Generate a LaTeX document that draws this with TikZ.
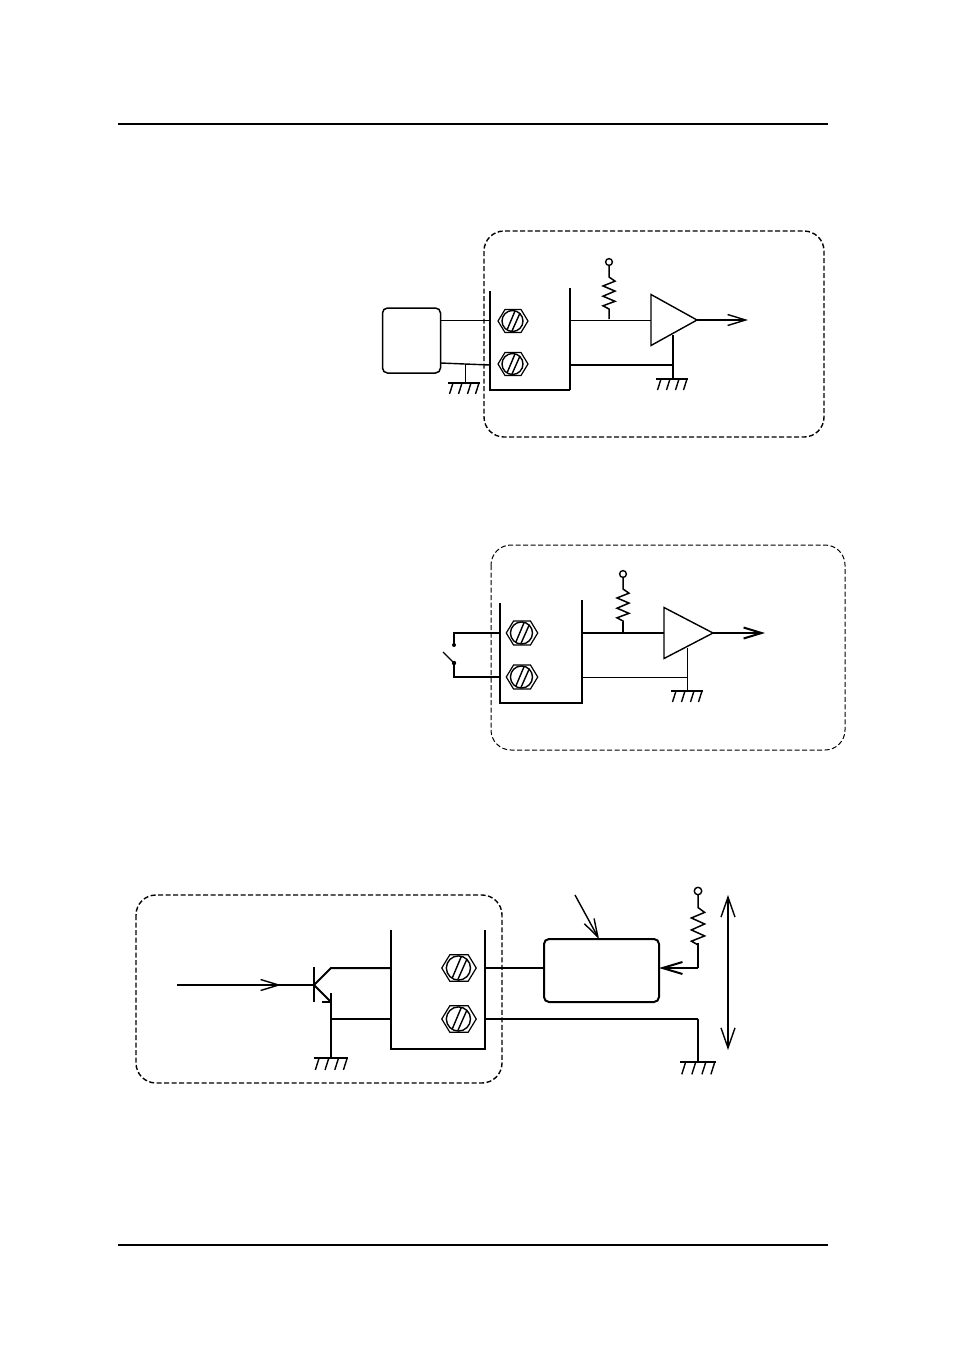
\documentclass[tikz,border=0pt]{standalone}
\usetikzlibrary{arrows.meta,shapes.geometric}
\tikzset{
  thinw/.style={line width=1pt},
  midw/.style={line width=1.4pt},
  thickw/.style={line width=2pt},
  frame/.style={midw, dash pattern=on 5pt off 2.5pt, rounded corners=20pt},
  amp/.style={draw, midw, isosceles triangle, isosceles triangle stretches, inner sep=0pt, outer sep=0pt, anchor=apex},
  modbox/.style={draw, midw, rounded corners=5pt, inner sep=0pt, outer sep=0pt},
  barb/.style={-{Straight Barb[length=18pt,width=11pt]}},
  screw/.pic={
    \draw[line width=1.2pt] (-15,0) -- (-8,-11.5) -- (8,-11.5) -- (15,0) -- (8,11.5) -- (-8,11.5) -- cycle;
    \draw[midw] (-.5,0) circle (10.5);
    \draw[midw] (-6,9) -- (2,-10) (-1,10) -- (7,-8);
  },
  gnd/.pic={
    \draw[midw] (-16,0) -- (16,0);
    \foreach \tx in {-11,-2,7,15}
      \draw[midw] (\tx,0) -- (\tx-3.5,11);
  },
  pullup/.pic={
    \draw[line width=1.4pt] (0,0) circle (3.4);
    \draw[line width=1.5pt] (0,3.4) -- (0,15) -- (6,.13*#1+15) -- (-6,.28*#1+15) -- (6,.44*#1+15) -- (-6,.6*#1+15) -- (6,.76*#1+15) -- (-6,.9*#1+15) -- (0,#1+15) -- (0,#1+25);
  },
}
\begin{document}
\begin{tikzpicture}[x=1pt, y=-1pt, >=stealth]
  \useasboundingbox (0,0) rectangle (954,1358);
  \fill[white] (0,0) rectangle (954,1358);

  % Page rules
  \draw[line width=1.7pt] (118,124) -- (828,124);
  \draw[line width=1.7pt] (118,1245) -- (828,1245);

  % First circuit: frame and terminal block
  \draw[frame] (484,231) rectangle (824,437);
  \draw[midw] (490,291) -- (490,390) -- (570,390);
  \draw[thickw] (570,288) -- (570,390);
  \pic at (513,321) {screw};
  \pic at (513,364) {screw};

  % Sensor side
  \node[modbox, line width=1.5pt, minimum width=58pt, minimum height=65pt] (sensor) at (411.5,340.5) {};
  \coordinate (inA) at (490,320);
  \coordinate (inB) at (490,365);
  \coordinate (tapA) at (465,364);
  \draw[thinw] (sensor.east |- inA) -- (inA);
  \draw[midw] (sensor.east |- 0,363) -- (tapA) -- (inB);
  \draw[thinw] (tapA) -- (465,383);
  \pic at (464,383) {gnd};

  % Amplifier side
  \node[amp, minimum width=51pt, minimum height=46pt] (ampA) at (697,320) {};
  \coordinate (outA) at (748,320);
  \coordinate (gndA) at (673,379);
  \draw[thinw] (570,320) -- (ampA.lower side |- outA);
  \pic at (609,262) {pullup=32};
  \draw[midw, barb] (ampA.apex) -- (outA);
  \draw[thickw] (673,335) -- (gndA);
  \draw[thickw] (570,365) -- (673,365);
  \pic at (672,379) {gnd};

  % Second circuit: frame and terminal block
  \draw[frame, thinw] (491,545) rectangle (845,750);
  \draw[thickw] (500,603) -- (500,703) -- (582,703) -- (582,600);
  \pic[scale=1.05] at (522,633) {screw};
  \pic[scale=1.05] at (522,677) {screw};

  % Switch
  \coordinate (swA) at (454,645);
  \coordinate (swB) at (454,663);
  \draw[thickw] (500,633) -- (454,633) -- (swA);
  \draw[midw] (500,677) -- (454,677) -- (swB);
  \draw[midw] (443,652) -- (swB);
  \fill (swA) circle (2);
  \fill (swB) circle (2.2);

  % Amplifier side
  \node[amp, minimum width=51pt, minimum height=49pt] (ampB) at (713,633) {};
  \coordinate (outB) at (765,633);
  \coordinate (gndB) at (687,691);
  \draw[thickw] (582,633) -- (ampB.lower side |- outB);
  \pic at (623,574) {pullup=32};
  \draw[thickw] (623,622) -- (623,633);
  \draw[thickw, barb] (ampB.apex) -- (outB);
  \draw[thinw] (687,648) -- (gndB);
  \draw[thinw] (582,677) -- (687,677);
  \pic at (687,691) {gnd};

  % Third circuit: frame and terminal block
  \draw[frame] (136,895) rectangle (502,1083);
  \draw[midw] (391,930) -- (391,1049) -- (485,1049) -- (485,930);
  \pic[scale=1.15] at (459,968) {screw};
  \pic[scale=1.15] at (459,1019) {screw};

  % Transistor
  \coordinate (base) at (314,985);
  \coordinate (coll) at (331,968);
  \coordinate (emit) at (331,1002);
  \draw[thickw] (177,985) -- (base);
  \draw[midw, barb] (262,985) -- (281,985);
  \draw[thickw] (314,967) -- (314,1002);
  \draw[thickw] (base) -- (coll) -- (391,968);
  \draw[thickw] (base) -- (emit);
  \draw[thickw] (322,1002) -- (emit);
  \draw[thickw] (331,993) -- (331,1058);
  \draw[thickw] (331,1019) -- (391,1019);
  \pic[scale=1.08] at (331,1058) {gnd};

  % External load
  \node[modbox, thickw, minimum width=115pt, minimum height=63pt] (load) at (601.5,970.5) {};
  \coordinate (tapC) at (698,968);
  \coordinate (retC) at (698,1019);
  \draw[thickw] (485,968) -- (load.west |- tapC);
  \draw[thickw, -{Straight Barb[length=20pt,width=12pt]}] (tapC) -- (load.east |- tapC);
  \draw[midw, -{Straight Barb[length=18pt,width=11pt]}] (575,895) -- (load.north -| 599,0);
  \pic[scale=1.1] at (698,891) {pullup=34};
  \draw[midw] (698,943) -- (tapC);
  \draw[thickw] (485,1019) -- (retC);
  \draw[midw] (retC) -- (698,1062);
  \pic[scale=1.12] at (698,1062) {gnd};
  \draw[midw, {Straight Barb[length=20pt,width=14pt]}-{Straight Barb[length=20pt,width=14pt]}] (728,895) -- (728,1050);
\end{tikzpicture}
\end{document}
